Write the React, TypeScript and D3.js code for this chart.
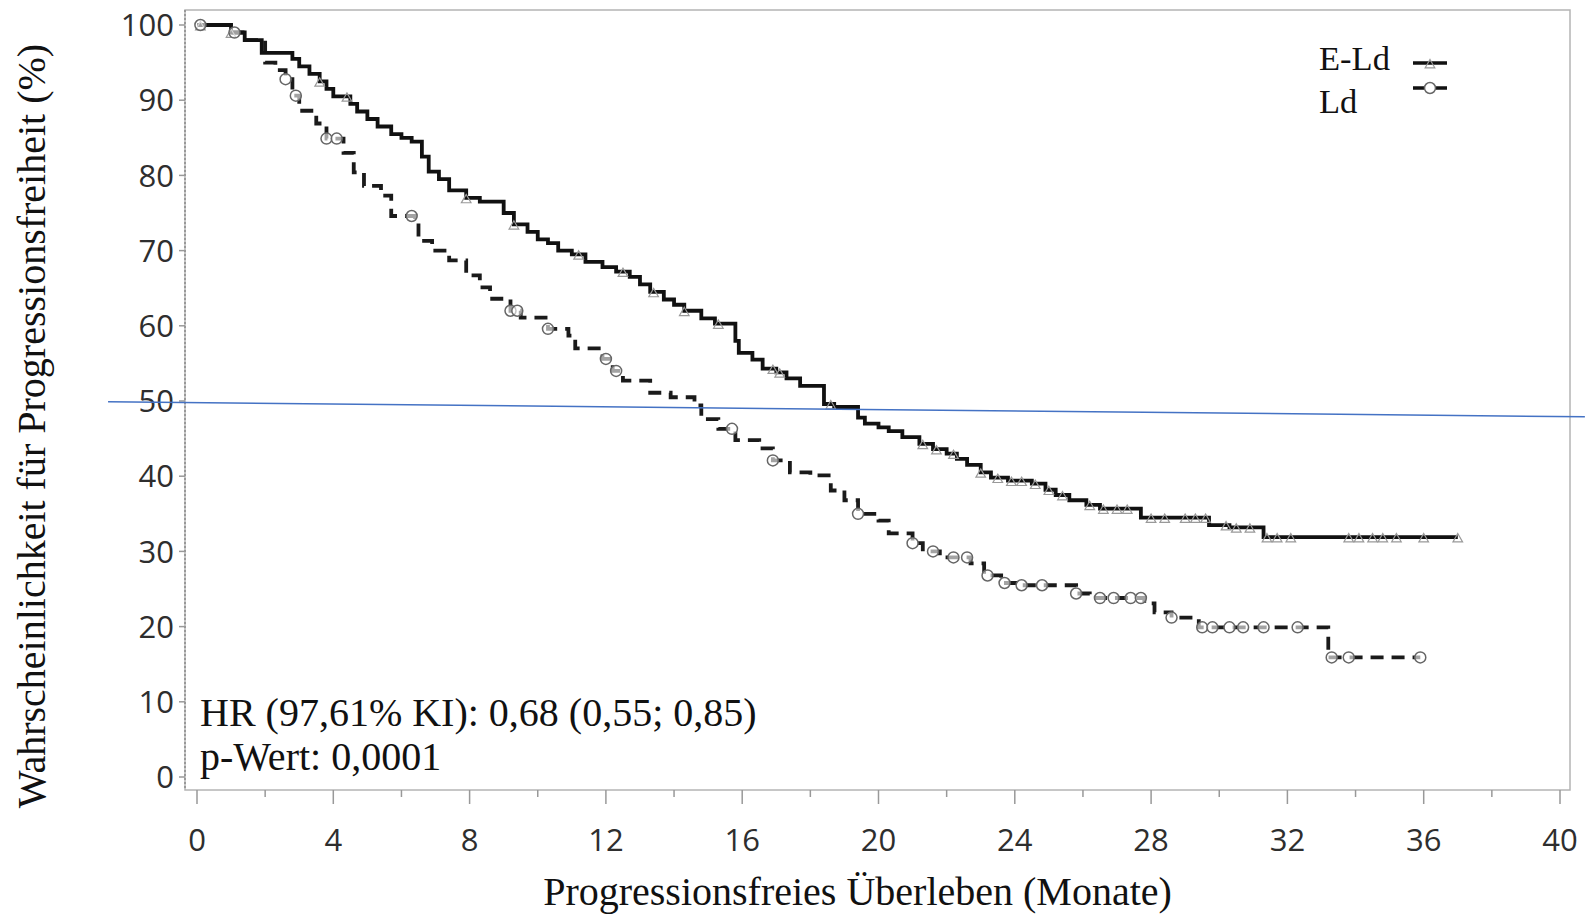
import React from "react";
import * as d3 from "d3";

// Kaplan-Meier steps: [month, % progression-free after the drop]
const eldSteps: [number, number][] = [
  [0, 100], [1.0, 99], [1.4, 98], [1.9, 96.3], [2.8, 95.5], [3.0, 94.5], [3.3, 93.5],
  [3.6, 92.5], [3.8, 91.5], [4.0, 90.5], [4.5, 89.5], [4.7, 88.5], [5.0, 87.5],
  [5.3, 86.5], [5.7, 85.5], [6.0, 85], [6.3, 84.5], [6.6, 82.5], [6.8, 80.5],
  [7.1, 79.5], [7.4, 78], [7.9, 77], [8.3, 76.5], [9.0, 75], [9.3, 73.5], [9.7, 72.5],
  [10.0, 71.5], [10.3, 71], [10.6, 70], [11.0, 69.5], [11.4, 68.5], [11.9, 67.8],
  [12.3, 67.2], [12.7, 66.5], [13.0, 65.5], [13.3, 64.5], [13.7, 63.5], [14.0, 62.8],
  [14.3, 62], [14.8, 61], [15.2, 60.3], [15.8, 58], [15.9, 56.4], [16.3, 55.5],
  [16.6, 54.3], [17.0, 53.8], [17.3, 53], [17.7, 52], [18.4, 49.6], [18.7, 49.2],
  [19.4, 47.8], [19.6, 47], [20.0, 46.5], [20.3, 46], [20.7, 45.2], [21.2, 44.3],
  [21.6, 43.6], [22.0, 43], [22.3, 42.3], [22.6, 41.5], [23.0, 40.5], [23.3, 39.8],
  [23.8, 39.4], [24.5, 39], [24.9, 38.2], [25.2, 37.5], [25.6, 36.8], [26.1, 36.2],
  [26.5, 35.7], [27.7, 34.5], [29.7, 33.5], [30.3, 33.2], [31.3, 31.9], [37.0, 31.9],
];

const ldSteps: [number, number][] = [
  [0, 100], [1.0, 99], [1.4, 98], [2.0, 95], [2.3, 94], [2.6, 92.8], [2.8, 90.6],
  [3.0, 88.6], [3.5, 86.9], [3.8, 84.9], [4.3, 83], [4.6, 80.4], [4.9, 78.6],
  [5.4, 77.3], [5.7, 74.6], [6.4, 73.7], [6.5, 71.3], [6.9, 70], [7.4, 68.7],
  [7.9, 66.7], [8.3, 65.1], [8.6, 63.6], [9.2, 62], [9.5, 61.1], [10.3, 59.6],
  [10.9, 58.7], [11.1, 57], [11.9, 55.6], [12.2, 54], [12.5, 52.7], [13.3, 51.1],
  [13.9, 50.5], [14.6, 49.4], [14.8, 47.6], [15.3, 46.3], [15.8, 44.8], [16.5, 43.7],
  [16.9, 42.1], [17.4, 40.5], [18.0, 40.1], [18.6, 38.1], [19.0, 36.8], [19.4, 35],
  [20.0, 34.1], [20.3, 32.4], [21.0, 31.1], [21.3, 30], [21.8, 29.2], [22.7, 28.4],
  [23.1, 26.8], [23.6, 25.8], [24.1, 25.5], [25.8, 24.4], [26.2, 23.8], [27.8, 23.1],
  [28.1, 21.9], [28.6, 21.2], [29.4, 19.9], [33.2, 15.9], [35.9, 15.9],
];

// censored observations (months)
const eldCensored = [
  0.1, 1.0, 3.6, 4.4, 7.9, 9.3, 11.2, 12.5, 13.4, 14.3, 15.3, 16.9, 17.1, 18.6, 21.3,
  21.7, 22.2, 23.0, 23.5, 23.9, 24.2, 24.6, 25.0, 25.4, 26.2, 26.6, 27.0, 27.3, 28.0,
  28.4, 29.0, 29.3, 29.6, 30.2, 30.5, 30.9, 31.4, 31.7, 32.1, 33.8, 34.1, 34.5, 34.8,
  35.2, 36.0, 37.0,
];
const ldCensored = [
  0.1, 1.1, 2.6, 2.9, 3.8, 4.1, 6.3, 9.2, 9.4, 10.3, 12.0, 12.3, 15.7, 16.9, 19.4, 21.0,
  21.6, 22.2, 22.6, 23.2, 23.7, 24.2, 24.8, 25.8, 26.5, 26.9, 27.4, 27.7, 28.6, 29.5,
  29.8, 30.3, 30.7, 31.3, 32.3, 33.3, 33.8, 35.9,
];

const xTicks = [0, 4, 8, 12, 16, 20, 24, 28, 32, 36, 40];
const xMinor = [2, 6, 10, 14, 18, 22, 26, 30, 34, 38];
const yTicks = [0, 10, 20, 30, 40, 50, 60, 70, 80, 90, 100];
const legendNames = ["E-Ld", "Ld"];
const statLines = ["HR (97,61% KI): 0,68 (0,55; 0,85)", "p-Wert: 0,0001"];
// hand-drawn reference line over the chart (month, %)
const blueLine: [number, number][] = [[-2.61, 49.9], [40.73, 47.9]];

const W = 1585, H = 916;
const frame = { left: 185, right: 1570, top: 10, bottom: 790 };
const serif = "'Liberation Serif', 'Times New Roman', serif";
const sans = "'Open Sans', 'Noto Sans', sans-serif";

function valueAt(steps: [number, number][], t: number) {
  let v = steps[0][1];
  for (const s of steps) {
    if (s[0] <= t) v = s[1];
    else break;
  }
  return v;
}

export default function App() {
  const x = d3.scaleLinear().domain([0, 40]).range([197, 1560]);
  const y = d3.scaleLinear().domain([0, 100]).range([777, 25]);
  const line = d3.line<[number, number]>()
    .x(d => x(d[0]))
    .y(d => y(d[1]))
    .curve(d3.curveStepAfter);
  const straight = d3.line<[number, number]>().x(d => x(d[0])).y(d => y(d[1]));

  const tri = d3.symbol().type(d3.symbolTriangle).size(40)();

  return (
    <svg width={W} height={H} style={{ position: "absolute", left: 0, top: 0, background: "#fff" }}>
      {/* frame */}
      <rect x={frame.left} y={frame.top} width={frame.right - frame.left} height={frame.bottom - frame.top}
        fill="none" stroke="#b4b4b4" strokeWidth={1.5} />
      <line x1={frame.left} x2={frame.left} y1={frame.top} y2={frame.bottom}
        stroke="#999" strokeWidth={2} strokeDasharray="2 2" />

      {/* y axis */}
      {yTicks.map(t => (
        <g key={"y" + t}>
          <line x1={frame.left - 6} x2={frame.left} y1={y(t)} y2={y(t)} stroke="#999" strokeWidth={1.5} />
          <text x={174} y={y(t)} dy="0.36em" textAnchor="end" fontFamily={sans} fontSize={31} fill="#2e2e2e">{t}</text>
        </g>
      ))}

      {/* x axis */}
      {xTicks.map(t => (
        <g key={"x" + t}>
          <line x1={x(t)} x2={x(t)} y1={frame.bottom} y2={frame.bottom + 14} stroke="#999" strokeWidth={1.5} />
          <text x={x(t)} y={851} textAnchor="middle" fontFamily={sans} fontSize={31} fill="#2e2e2e">{t}</text>
        </g>
      ))}
      {xMinor.map(t => (
        <line key={"m" + t} x1={x(t)} x2={x(t)} y1={frame.bottom} y2={frame.bottom + 7} stroke="#999" strokeWidth={1.5} />
      ))}

      {/* axis titles */}
      <text x={(frame.left + frame.right) / 2 - 20} y={905} textAnchor="middle" fontFamily={serif} fontSize={40} fill="#111">
        Progressionsfreies Überleben (Monate)
      </text>
      <text transform={`translate(45,426) rotate(-90)`} textAnchor="middle" fontFamily={serif} fontSize={40} fill="#111">
        Wahrscheinlichkeit für Progressionsfreiheit (%)
      </text>

      {/* curves */}
      <path d={line(ldSteps) || ""} fill="none" stroke="#1a1a1a" strokeWidth={3.8} strokeDasharray="13 8" />
      <path d={line(eldSteps) || ""} fill="none" stroke="#111" strokeWidth={3.8} />

      {/* censor marks */}
      {eldCensored.map((t, i) => (
        <path key={"ce" + i} d={tri || ""} transform={`translate(${x(t)},${y(valueAt(eldSteps, t)) + 2})`}
          fill="none" stroke="#999" strokeWidth={1.2} />
      ))}
      {ldCensored.map((t, i) => (
        <circle key={"cl" + i} cx={x(t)} cy={y(valueAt(ldSteps, t))} r={5.5}
          fill="#fff" fillOpacity={0.6} stroke="#666" strokeWidth={1.5} />
      ))}

      {/* statistics */}
      {statLines.map((s, i) => (
        <text key={s} x={200} y={726 + i * 44} fontFamily={serif} fontSize={40} fill="#111">{s}</text>
      ))}

      {/* legend */}
      <text x={1319} y={70} fontFamily={serif} fontSize={34.5} fill="#111">{legendNames[0]}</text>
      <text x={1319} y={113} fontFamily={serif} fontSize={34.5} fill="#111">{legendNames[1]}</text>
      <line x1={1413} x2={1447} y1={63} y2={63} stroke="#111" strokeWidth={3.5} />
      <path d={tri || ""} transform="translate(1430,65)" fill="none" stroke="#999" strokeWidth={1.2} />
      <line x1={1413} x2={1447} y1={88} y2={88} stroke="#111" strokeWidth={3.5} strokeDasharray="11 12" />
      <circle cx={1430} cy={88} r={5.5} fill="#fff" stroke="#666" strokeWidth={1.5} />

      {/* blue overlay line */}
      <path d={straight(blueLine) || ""} stroke="#4472c4" strokeWidth={1.5} fill="none" />
    </svg>
  );
}
